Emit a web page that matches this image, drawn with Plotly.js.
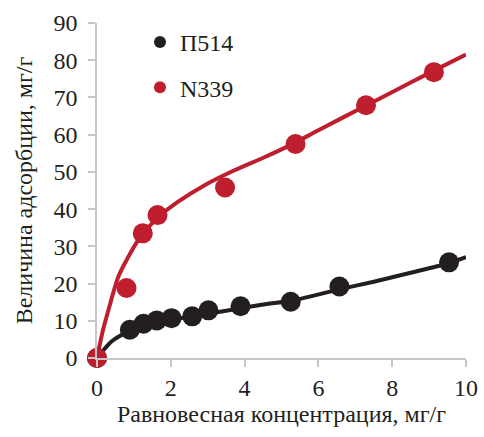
<!DOCTYPE html>
<html>
<head>
<meta charset="utf-8">
<script src="https://cdn.plot.ly/plotly-3.0.1.min.js"></script>
<style>
#chart text{font-family:'Liberation Serif','Times New Roman',serif !important;}
.modebar-container{display:none !important;}
</style>
</head>
<body style="margin:0;background:#fff">
<div id="chart" style="width:484px;height:437px"></div>
<script>
// Data points
const p514X = [0, 0.89, 1.26, 1.62, 2.02, 2.58, 3.02, 3.89, 5.25, 6.57, 9.54];
const p514Y = [0, 7.6, 9.2, 10.1, 10.7, 11.2, 12.8, 13.9, 15.1, 19.2, 25.7];
const n339X = [0, 0.80, 1.24, 1.64, 3.47, 5.38, 7.29, 9.13];
const n339Y = [0, 18.8, 33.5, 38.4, 45.8, 57.5, 67.9, 76.8];

// Trend curves
const p514CurveX = [0.05, 0.2, 0.4, 0.85, 1.3, 2, 2.6, 3.38, 4.46, 5.37, 6.5, 7.5, 8.5, 9.5, 10];
const p514CurveY = [0.9, 2.4, 4.5, 7.1, 8.6, 10.2, 11.3, 12.5, 14.3, 15.6, 18.3, 20.5, 22.9, 25.4, 27.1];
const n339CurveX = [0, 0.15, 0.31, 0.58, 0.85, 1.12, 1.62, 2.2, 2.93, 3.74, 4.55, 5.28, 6.0, 7.31, 8.5, 9.13, 10];
const n339CurveY = [0, 7, 12.9, 21.9, 27.2, 31.7, 37.5, 42.0, 46.5, 50.5, 54.0, 57.4, 61.2, 67.9, 74.0, 77.2, 81.5];

const xTicks = [0, 2, 4, 6, 8, 10];
const yTicks = [0, 10, 20, 30, 40, 50, 60, 70, 80, 90];

const BLACK = '#231f20';
const RED = '#be1e2d';
const TXT = '#231f20';
const FAMILY = 'Liberation Serif, Tinos, Times New Roman, Times, DejaVu Serif, serif';

const traces = [
  {x: p514CurveX, y: p514CurveY, mode: 'lines', line: {color: BLACK, width: 4, shape: 'spline', smoothing: 0.8}, showlegend: false, cliponaxis: false, hoverinfo: 'skip'},
  {x: n339CurveX, y: n339CurveY, mode: 'lines', line: {color: RED, width: 4, shape: 'spline', smoothing: 0.8}, showlegend: false, cliponaxis: false, hoverinfo: 'skip'},
  {x: p514X, y: p514Y, mode: 'markers', name: 'П514', legendgroup: 'a', marker: {color: BLACK, size: 20}, cliponaxis: false},
  {x: n339X, y: n339Y, mode: 'markers', name: 'N339', legendgroup: 'b', marker: {color: RED, size: 20}, cliponaxis: false}
];

const axisCommon = {
  showgrid: false, zeroline: false, showline: true, linecolor: '#c6c6c6', linewidth: 1.5,
  ticks: 'outside', ticklen: 7, tickcolor: '#c6c6c6', tickwidth: 1.5,
  tickfont: {size: 24, color: TXT}
};

const layout = {
  width: 484, height: 437,
  margin: {l: 97, r: 18, t: 23, b: 79},
  paper_bgcolor: '#fff', plot_bgcolor: '#fff',
  font: {family: FAMILY, color: TXT, size: 24},
  xaxis: Object.assign({}, axisCommon, {
    range: [0, 10], tickvals: xTicks, ticktext: xTicks.map(String),
    title: {text: 'Равновесная концентрация, мг/г', font: {size: 24, color: TXT}, standoff: 6}
  }),
  yaxis: Object.assign({}, axisCommon, {
    range: [0, 90], tickvals: yTicks, ticktext: yTicks.map(String), ticklabelstandoff: 6,
    title: {text: 'Величина адсорбции, мг/г', font: {size: 24, color: TXT}, standoff: 14}
  }),
  showlegend: true,
  legend: {
    x: 0.1165, y: 1.009, xanchor: 'left', yanchor: 'top',
    font: {size: 24, color: TXT},
    bgcolor: 'rgba(0,0,0,0)', traceorder: 'grouped', tracegroupgap: 11,
    itemsizing: 'constant'
  }
};

Plotly.newPlot('chart', traces, layout).then(function (gd) {
  gd.querySelectorAll('text').forEach(function (t) {
    t.style.fontFamily = "'Liberation Serif', 'Times New Roman', serif";
  });
});
</script>
</body>
</html>
